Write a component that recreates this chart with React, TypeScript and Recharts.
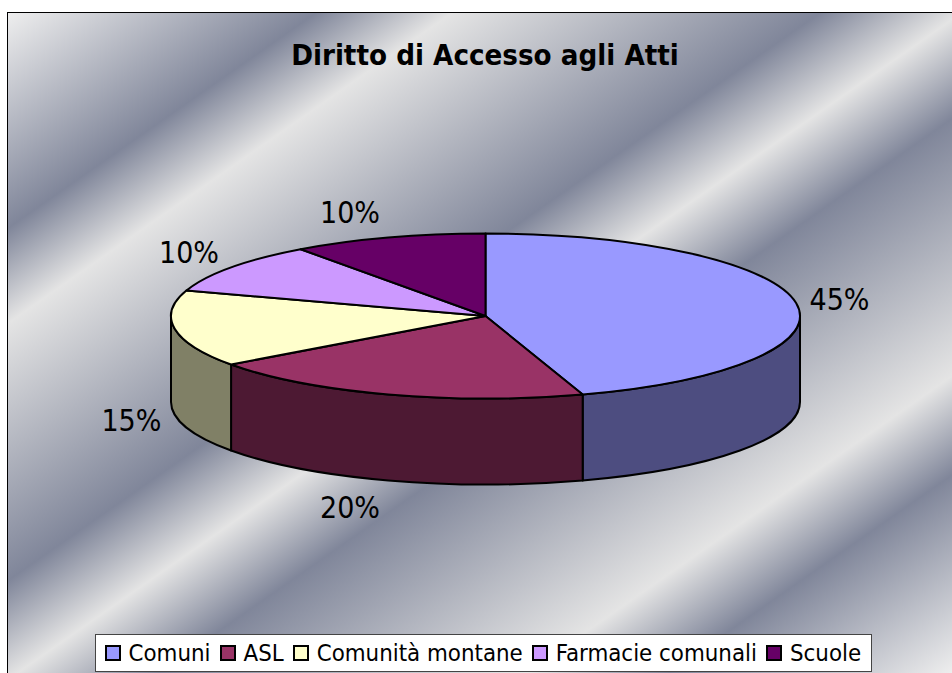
import { PieChart, Pie, Legend } from 'recharts'

const categories = ['Comuni', 'ASL', 'Comunità montane', 'Farmacie comunali', 'Scuole']
const shares = [45, 20, 15, 10, 10]
const topColors = ['#9999FF', '#993366', '#FFFFCC', '#CC99FF', '#660066']
const wallColors = ['#4D4D80', '#4D1933', '#808066', '#664D80', '#330033']

const FONT = "'DejaVu Sans Condensed', 'DejaVu Sans', sans-serif"
const WIDTH = 952
const HEIGHT = 673
const CX = 485.5
const CY = 316
const RX = 314.5
const RY = 82.5
const DEPTH = 86

const data = categories.map((name, i) => ({
  name,
  value: shares[i],
  fill: topColors[i],
  wall: wallColors[i],
}))

const BACKGROUND =
  'linear-gradient(to bottom right, #eeeeee 0%, #80869a 16.3%, #e4e4e4 23.5%, #80869a 43%, #e4e4e4 50.5%, #80869a 58%, #e4e4e4 77.5%, #80869a 85%, #eeeeee 100%)'

function pt(angle: number, yOffset = 0) {
  const rad = (angle * Math.PI) / 180
  return { x: CX + RX * Math.cos(rad), y: CY - RY * Math.sin(rad) + yOffset }
}

function arcTo(p: { x: number; y: number }, sweepDeg: number, clockwise: boolean) {
  return `A ${RX} ${RY} 0 ${sweepDeg > 180 ? 1 : 0} ${clockwise ? 1 : 0} ${p.x} ${p.y}`
}

function TopSlice(props: any) {
  const { startAngle, endAngle, fill } = props
  const a = pt(startAngle)
  const b = pt(endAngle)
  const d = `M ${CX} ${CY} L ${a.x} ${a.y} ${arcTo(b, startAngle - endAngle, true)} Z`
  return <path d={d} fill={fill} stroke="#000" strokeWidth={2} strokeLinejoin="round" />
}

// only the part of a slice facing the viewer has a side wall
function WallSlice(props: any) {
  const { startAngle, endAngle, wall } = props
  const from = Math.min(startAngle, 0)
  const to = Math.max(endAngle, -180)
  if (from <= to) return null
  const sweep = from - to
  const a = pt(from)
  const b = pt(to)
  const c = pt(to, DEPTH)
  const e = pt(from, DEPTH)
  const d = `M ${a.x} ${a.y} ${arcTo(b, sweep, true)} L ${c.x} ${c.y} ${arcTo(e, sweep, false)} Z`
  return <path d={d} fill={wall} stroke="#000" strokeWidth={2} strokeLinejoin="round" />
}

function PercentLabel(props: any) {
  const { midAngle, percent } = props
  const rad = (midAngle * Math.PI) / 180
  const sin = Math.sin(rad)
  const cos = Math.cos(rad)
  const p = pt(midAngle, sin < 0 ? DEPTH : 0)
  const x = p.x + Math.sign(cos) * (36 + 7.5 * Math.abs(cos))
  const y = p.y - 27 * sin + 1
  return (
    <text x={x} y={y} textAnchor="middle" dominantBaseline="central" fontFamily={FONT} fontSize={30} fill="#000">
      {`${Math.round(percent * 100)}%`}
    </text>
  )
}

function LegendBox() {
  return (
    <div
      style={{
        boxSizing: 'border-box',
        width: 777,
        height: 38,
        background: '#fff',
        border: '1.5px solid #444',
        display: 'flex',
        alignItems: 'center',
        paddingLeft: 8.5,
        fontFamily: FONT,
        fontSize: 23.8,
        color: '#000',
        whiteSpace: 'nowrap',
      }}
    >
      {data.map((d) => (
        <span key={d.name} style={{ display: 'flex', alignItems: 'center', marginRight: 9 }}>
          <span
            style={{
              boxSizing: 'border-box',
              width: 16,
              height: 16,
              background: d.fill,
              border: '2px solid #000',
              marginRight: 8,
            }}
          />
          {d.name}
        </span>
      ))}
    </div>
  )
}

export default function App() {
  return (
    <div style={{ position: 'absolute', left: 0, top: 0, width: WIDTH, height: HEIGHT, overflow: 'hidden', background: '#fff' }}>
      <div
        style={{
          position: 'absolute',
          left: 7,
          top: 12,
          width: WIDTH - 7,
          height: HEIGHT - 12,
          boxSizing: 'border-box',
          borderLeft: '1.5px solid #000',
          borderTop: '1.5px solid #000',
          background: BACKGROUND,
        }}
      />
      <div style={{ position: 'absolute', left: 0, top: 0 }}>
        <PieChart width={WIDTH} height={HEIGHT} margin={{ top: 0, right: 0, bottom: 0, left: 0 }}>
          <text x={485} y={55} textAnchor="middle" dominantBaseline="central" fontFamily={FONT} fontWeight="bold" fontSize={29.2} fill="#000">
            Diritto di Accesso agli Atti
          </text>
          <Pie
            data={data}
            dataKey="value"
            nameKey="name"
            cx={CX}
            cy={CY}
            outerRadius={RX}
            startAngle={90}
            endAngle={-270}
            shape={WallSlice}
            legendType="none"
            isAnimationActive={false}
          />
          <Pie
            data={data}
            dataKey="value"
            nameKey="name"
            cx={CX}
            cy={CY}
            outerRadius={RX}
            startAngle={90}
            endAngle={-270}
            shape={TopSlice}
            label={PercentLabel}
            labelLine={false}
            isAnimationActive={false}
          />
          <Legend content={<LegendBox />} wrapperStyle={{ position: 'absolute', left: 95, top: 634, width: 777 }} />
        </PieChart>
      </div>
    </div>
  )
}
